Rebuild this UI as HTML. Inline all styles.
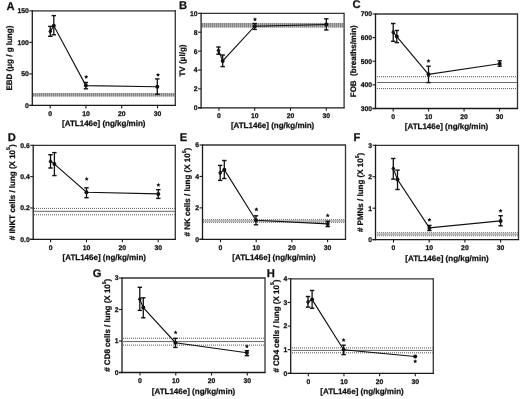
<!DOCTYPE html>
<html><head><meta charset="utf-8">
<style>
html,body{margin:0;padding:0;background:#fff;}
body{width:520px;height:399px;overflow:hidden;}
svg{display:block;filter:grayscale(1);}
text{font-family:"Liberation Sans",sans-serif;font-weight:bold;fill:#111;stroke:#111;stroke-width:0.25px;text-rendering:geometricPrecision;}
</style></head>
<body>
<svg width="520" height="399" viewBox="0 0 520 399">
<rect width="520" height="399" fill="#fff"/>
<rect x="33" y="93.1" width="141.6" height="3.4" fill="#b0b0b0"/>
<line x1="33" y1="94.8" x2="174.6" y2="94.8" stroke="#858585" stroke-width="3.4" stroke-dasharray="1 1"/>
<line x1="32.3" y1="10.9" x2="175.3" y2="10.9" stroke="#666" stroke-width="1.8"/>
<line x1="175.3" y1="10" x2="175.3" y2="105.4" stroke="#333" stroke-width="1.3"/>
<line x1="32.3" y1="10.3" x2="32.3" y2="106.05" stroke="#1a1a1a" stroke-width="1.3"/>
<line x1="29.3" y1="105.4" x2="175.95" y2="105.4" stroke="#1a1a1a" stroke-width="1.3"/>
<line x1="29.3" y1="105.4" x2="32.3" y2="105.4" stroke="#1a1a1a" stroke-width="1.1"/>
<text x="28.8" y="107.83" text-anchor="end" font-size="6.8">0</text>
<line x1="29.3" y1="73.9" x2="32.3" y2="73.9" stroke="#1a1a1a" stroke-width="1.1"/>
<text x="28.8" y="76.33" text-anchor="end" font-size="6.8">50</text>
<line x1="29.3" y1="42.4" x2="32.3" y2="42.4" stroke="#1a1a1a" stroke-width="1.1"/>
<text x="28.8" y="44.83" text-anchor="end" font-size="6.8">100</text>
<line x1="29.3" y1="10.9" x2="32.3" y2="10.9" stroke="#1a1a1a" stroke-width="1.1"/>
<text x="28.8" y="13.33" text-anchor="end" font-size="6.8">150</text>
<line x1="50.2" y1="105.4" x2="50.2" y2="108.4" stroke="#1a1a1a" stroke-width="1.1"/>
<text x="50.2" y="115.6" text-anchor="middle" font-size="6.8">0</text>
<line x1="85.97" y1="105.4" x2="85.97" y2="108.4" stroke="#1a1a1a" stroke-width="1.1"/>
<text x="85.97" y="115.6" text-anchor="middle" font-size="6.8">10</text>
<line x1="121.73" y1="105.4" x2="121.73" y2="108.4" stroke="#1a1a1a" stroke-width="1.1"/>
<text x="121.73" y="115.6" text-anchor="middle" font-size="6.8">20</text>
<line x1="157.5" y1="105.4" x2="157.5" y2="108.4" stroke="#1a1a1a" stroke-width="1.1"/>
<text x="157.5" y="115.6" text-anchor="middle" font-size="6.8">30</text>
<text x="103.8" y="126.4" text-anchor="middle" font-size="8">[ATL146e] (ng/kg/min)</text>
<text transform="translate(12.4 58.15) rotate(-90)" x="0" y="0" text-anchor="middle" font-size="8">EBD (μg / g lung)</text>
<text x="6.4" y="9.5" font-size="11.2" stroke="#000" stroke-width="0.5">A</text>
<polyline points="50.3,31.4 53.8,25.8 85.9,85.6 157.3,86.8" fill="none" stroke="#111" stroke-width="1.15"/>
<line x1="50.3" y1="26.4" x2="50.3" y2="36.3" stroke="#111" stroke-width="1.3"/>
<line x1="48.1" y1="26.4" x2="52.5" y2="26.4" stroke="#111" stroke-width="1.4"/>
<line x1="48.1" y1="36.3" x2="52.5" y2="36.3" stroke="#111" stroke-width="1.4"/>
<polygon points="50.3,29.7 51.6,31.4 50.3,33.1 49,31.4" fill="none" stroke="#111" stroke-width="1.1"/>
<line x1="53.8" y1="15.6" x2="53.8" y2="34.8" stroke="#111" stroke-width="1.3"/>
<line x1="51.6" y1="15.6" x2="56" y2="15.6" stroke="#111" stroke-width="1.4"/>
<line x1="51.6" y1="34.8" x2="56" y2="34.8" stroke="#111" stroke-width="1.4"/>
<circle cx="53.8" cy="25.8" r="2" fill="#111"/>
<line x1="85.9" y1="82.5" x2="85.9" y2="88.8" stroke="#111" stroke-width="1.3"/>
<line x1="83.7" y1="82.5" x2="88.1" y2="82.5" stroke="#111" stroke-width="1.4"/>
<line x1="83.7" y1="88.8" x2="88.1" y2="88.8" stroke="#111" stroke-width="1.4"/>
<circle cx="85.9" cy="85.6" r="2" fill="#111"/>
<line x1="157.3" y1="78.9" x2="157.3" y2="94.3" stroke="#111" stroke-width="1.3"/>
<line x1="155.1" y1="78.9" x2="159.5" y2="78.9" stroke="#111" stroke-width="1.4"/>
<line x1="155.1" y1="94.3" x2="159.5" y2="94.3" stroke="#111" stroke-width="1.4"/>
<circle cx="157.3" cy="86.8" r="2" fill="#111"/>
<polygon points="86.2,74.75 86.83,76.03 88.24,76.24 87.22,77.23 87.46,78.64 86.2,77.98 84.94,78.64 85.18,77.23 84.16,76.24 85.57,76.03" fill="#111"/>
<polygon points="158,72.65 158.63,73.93 160.04,74.14 159.02,75.13 159.26,76.54 158,75.88 156.74,76.54 156.98,75.13 155.96,74.14 157.37,73.93" fill="#111"/>
<rect x="202" y="22.9" width="141.4" height="4.6" fill="#b0b0b0"/>
<line x1="202" y1="25.2" x2="343.4" y2="25.2" stroke="#858585" stroke-width="4.6" stroke-dasharray="1 1"/>
<line x1="201.1" y1="13.3" x2="344.1" y2="13.3" stroke="#333" stroke-width="1.3"/>
<line x1="344.1" y1="12.65" x2="344.1" y2="107.8" stroke="#333" stroke-width="1.3"/>
<line x1="201.1" y1="12.7" x2="201.1" y2="108.45" stroke="#1a1a1a" stroke-width="1.3"/>
<line x1="198.1" y1="107.8" x2="344.75" y2="107.8" stroke="#1a1a1a" stroke-width="1.3"/>
<line x1="198.1" y1="107.8" x2="201.1" y2="107.8" stroke="#1a1a1a" stroke-width="1.1"/>
<text x="197.6" y="110.23" text-anchor="end" font-size="6.8">0</text>
<line x1="198.1" y1="88.9" x2="201.1" y2="88.9" stroke="#1a1a1a" stroke-width="1.1"/>
<text x="197.6" y="91.33" text-anchor="end" font-size="6.8">2</text>
<line x1="198.1" y1="70" x2="201.1" y2="70" stroke="#1a1a1a" stroke-width="1.1"/>
<text x="197.6" y="72.43" text-anchor="end" font-size="6.8">4</text>
<line x1="198.1" y1="51.1" x2="201.1" y2="51.1" stroke="#1a1a1a" stroke-width="1.1"/>
<text x="197.6" y="53.53" text-anchor="end" font-size="6.8">6</text>
<line x1="198.1" y1="32.2" x2="201.1" y2="32.2" stroke="#1a1a1a" stroke-width="1.1"/>
<text x="197.6" y="34.63" text-anchor="end" font-size="6.8">8</text>
<line x1="198.1" y1="13.3" x2="201.1" y2="13.3" stroke="#1a1a1a" stroke-width="1.1"/>
<text x="197.6" y="15.73" text-anchor="end" font-size="6.8">10</text>
<line x1="218.9" y1="107.8" x2="218.9" y2="110.8" stroke="#1a1a1a" stroke-width="1.1"/>
<text x="218.9" y="118" text-anchor="middle" font-size="6.8">0</text>
<line x1="254.7" y1="107.8" x2="254.7" y2="110.8" stroke="#1a1a1a" stroke-width="1.1"/>
<text x="254.7" y="118" text-anchor="middle" font-size="6.8">10</text>
<line x1="290.5" y1="107.8" x2="290.5" y2="110.8" stroke="#1a1a1a" stroke-width="1.1"/>
<text x="290.5" y="118" text-anchor="middle" font-size="6.8">20</text>
<line x1="326.3" y1="107.8" x2="326.3" y2="110.8" stroke="#1a1a1a" stroke-width="1.1"/>
<text x="326.3" y="118" text-anchor="middle" font-size="6.8">30</text>
<text x="272.6" y="128.2" text-anchor="middle" font-size="8">[ATL146e] (ng/kg/min)</text>
<text transform="translate(185 60.55) rotate(-90)" x="0" y="0" text-anchor="middle" font-size="8">TV (μl/g)</text>
<text x="179" y="9.2" font-size="11.2" stroke="#000" stroke-width="0.5">B</text>
<polyline points="218.5,50.5 222.7,60.9 254.7,26.2 326.3,24.5" fill="none" stroke="#111" stroke-width="1.15"/>
<line x1="218.5" y1="47" x2="218.5" y2="54.2" stroke="#111" stroke-width="1.3"/>
<line x1="216.3" y1="47" x2="220.7" y2="47" stroke="#111" stroke-width="1.4"/>
<line x1="216.3" y1="54.2" x2="220.7" y2="54.2" stroke="#111" stroke-width="1.4"/>
<polygon points="218.5,48.8 219.8,50.5 218.5,52.2 217.2,50.5" fill="none" stroke="#111" stroke-width="1.1"/>
<line x1="222.7" y1="55" x2="222.7" y2="66.6" stroke="#111" stroke-width="1.3"/>
<line x1="220.5" y1="55" x2="224.9" y2="55" stroke="#111" stroke-width="1.4"/>
<line x1="220.5" y1="66.6" x2="224.9" y2="66.6" stroke="#111" stroke-width="1.4"/>
<circle cx="222.7" cy="60.9" r="2" fill="#111"/>
<line x1="254.7" y1="23.5" x2="254.7" y2="29.4" stroke="#111" stroke-width="1.3"/>
<line x1="252.5" y1="23.5" x2="256.9" y2="23.5" stroke="#111" stroke-width="1.4"/>
<line x1="252.5" y1="29.4" x2="256.9" y2="29.4" stroke="#111" stroke-width="1.4"/>
<circle cx="254.7" cy="26.2" r="2" fill="#111"/>
<line x1="326.3" y1="18.8" x2="326.3" y2="30" stroke="#111" stroke-width="1.3"/>
<line x1="324.1" y1="18.8" x2="328.5" y2="18.8" stroke="#111" stroke-width="1.4"/>
<line x1="324.1" y1="30" x2="328.5" y2="30" stroke="#111" stroke-width="1.4"/>
<circle cx="326.3" cy="24.5" r="2" fill="#111"/>
<polygon points="255,17.25 255.63,18.53 257.04,18.74 256.02,19.73 256.26,21.14 255,20.47 253.74,21.14 253.98,19.73 252.96,18.74 254.37,18.53" fill="#111"/>
<line x1="377" y1="76.7" x2="516.8" y2="76.7" stroke="#555" stroke-width="1" stroke-dasharray="1 1"/>
<line x1="377" y1="82.5" x2="516.8" y2="82.5" stroke="#666" stroke-width="1"/>
<line x1="377" y1="88.6" x2="516.8" y2="88.6" stroke="#555" stroke-width="1" stroke-dasharray="1 1"/>
<line x1="375.5" y1="14" x2="517.5" y2="14" stroke="#333" stroke-width="1.3"/>
<line x1="517.5" y1="13.35" x2="517.5" y2="108.5" stroke="#333" stroke-width="1.3"/>
<line x1="375.5" y1="13.4" x2="375.5" y2="109.15" stroke="#1a1a1a" stroke-width="1.3"/>
<line x1="372.5" y1="108.5" x2="518.15" y2="108.5" stroke="#1a1a1a" stroke-width="1.3"/>
<line x1="372.5" y1="108.5" x2="375.5" y2="108.5" stroke="#1a1a1a" stroke-width="1.1"/>
<text x="372" y="110.93" text-anchor="end" font-size="6.8">300</text>
<line x1="372.5" y1="84.88" x2="375.5" y2="84.88" stroke="#1a1a1a" stroke-width="1.1"/>
<text x="372" y="87.31" text-anchor="end" font-size="6.8">400</text>
<line x1="372.5" y1="61.25" x2="375.5" y2="61.25" stroke="#1a1a1a" stroke-width="1.1"/>
<text x="372" y="63.68" text-anchor="end" font-size="6.8">500</text>
<line x1="372.5" y1="37.62" x2="375.5" y2="37.62" stroke="#1a1a1a" stroke-width="1.1"/>
<text x="372" y="40.06" text-anchor="end" font-size="6.8">600</text>
<line x1="372.5" y1="14" x2="375.5" y2="14" stroke="#1a1a1a" stroke-width="1.1"/>
<text x="372" y="16.43" text-anchor="end" font-size="6.8">700</text>
<line x1="393.2" y1="108.5" x2="393.2" y2="111.5" stroke="#1a1a1a" stroke-width="1.1"/>
<text x="393.2" y="118.7" text-anchor="middle" font-size="6.8">0</text>
<line x1="428.63" y1="108.5" x2="428.63" y2="111.5" stroke="#1a1a1a" stroke-width="1.1"/>
<text x="428.63" y="118.7" text-anchor="middle" font-size="6.8">10</text>
<line x1="464.07" y1="108.5" x2="464.07" y2="111.5" stroke="#1a1a1a" stroke-width="1.1"/>
<text x="464.07" y="118.7" text-anchor="middle" font-size="6.8">20</text>
<line x1="499.5" y1="108.5" x2="499.5" y2="111.5" stroke="#1a1a1a" stroke-width="1.1"/>
<text x="499.5" y="118.7" text-anchor="middle" font-size="6.8">30</text>
<text x="446.5" y="129.2" text-anchor="middle" font-size="8">[ATL146e] (ng/kg/min)</text>
<text transform="translate(356.4 61.25) rotate(-90)" x="0" y="0" text-anchor="middle" font-size="8">FOB  (breaths/min)</text>
<text x="352.5" y="7.9" font-size="11.2" stroke="#000" stroke-width="0.5">C</text>
<polyline points="393.2,32.2 396.8,36.6 428.5,74.3 499.7,63.7" fill="none" stroke="#111" stroke-width="1.15"/>
<line x1="393.2" y1="23.5" x2="393.2" y2="41.3" stroke="#111" stroke-width="1.3"/>
<line x1="391" y1="23.5" x2="395.4" y2="23.5" stroke="#111" stroke-width="1.4"/>
<line x1="391" y1="41.3" x2="395.4" y2="41.3" stroke="#111" stroke-width="1.4"/>
<polygon points="393.2,30.5 394.5,32.2 393.2,33.9 391.9,32.2" fill="none" stroke="#111" stroke-width="1.1"/>
<line x1="396.8" y1="30.5" x2="396.8" y2="42.6" stroke="#111" stroke-width="1.3"/>
<line x1="394.6" y1="30.5" x2="399" y2="30.5" stroke="#111" stroke-width="1.4"/>
<line x1="394.6" y1="42.6" x2="399" y2="42.6" stroke="#111" stroke-width="1.4"/>
<circle cx="396.8" cy="36.6" r="2" fill="#111"/>
<line x1="428.5" y1="66.2" x2="428.5" y2="82.6" stroke="#111" stroke-width="1.3"/>
<line x1="426.3" y1="66.2" x2="430.7" y2="66.2" stroke="#111" stroke-width="1.4"/>
<line x1="426.3" y1="82.6" x2="430.7" y2="82.6" stroke="#111" stroke-width="1.4"/>
<circle cx="428.5" cy="74.3" r="2" fill="#111"/>
<line x1="499.7" y1="60.8" x2="499.7" y2="66.2" stroke="#111" stroke-width="1.3"/>
<line x1="497.5" y1="60.8" x2="501.9" y2="60.8" stroke="#111" stroke-width="1.4"/>
<line x1="497.5" y1="66.2" x2="501.9" y2="66.2" stroke="#111" stroke-width="1.4"/>
<circle cx="499.7" cy="63.7" r="2" fill="#111"/>
<polygon points="428.5,58.85 429.13,60.13 430.54,60.34 429.52,61.33 429.76,62.74 428.5,62.08 427.24,62.74 427.48,61.33 426.46,60.34 427.87,60.13" fill="#111"/>
<line x1="34" y1="208.4" x2="174.6" y2="208.4" stroke="#555" stroke-width="1" stroke-dasharray="1 1"/>
<line x1="34" y1="211.3" x2="174.6" y2="211.3" stroke="#666" stroke-width="1"/>
<line x1="34" y1="214.8" x2="174.6" y2="214.8" stroke="#555" stroke-width="1" stroke-dasharray="1 1"/>
<line x1="33.2" y1="145.3" x2="175.3" y2="145.3" stroke="#333" stroke-width="1.3"/>
<line x1="175.3" y1="144.65" x2="175.3" y2="239.3" stroke="#333" stroke-width="1.3"/>
<line x1="33.2" y1="144.7" x2="33.2" y2="239.95" stroke="#1a1a1a" stroke-width="1.3"/>
<line x1="30.2" y1="239.3" x2="175.95" y2="239.3" stroke="#1a1a1a" stroke-width="1.3"/>
<line x1="30.2" y1="239.3" x2="33.2" y2="239.3" stroke="#1a1a1a" stroke-width="1.1"/>
<text x="29.7" y="241.73" text-anchor="end" font-size="6.8">0.0</text>
<line x1="30.2" y1="207.97" x2="33.2" y2="207.97" stroke="#1a1a1a" stroke-width="1.1"/>
<text x="29.7" y="210.4" text-anchor="end" font-size="6.8">0.2</text>
<line x1="30.2" y1="176.63" x2="33.2" y2="176.63" stroke="#1a1a1a" stroke-width="1.1"/>
<text x="29.7" y="179.07" text-anchor="end" font-size="6.8">0.4</text>
<line x1="30.2" y1="145.3" x2="33.2" y2="145.3" stroke="#1a1a1a" stroke-width="1.1"/>
<text x="29.7" y="147.73" text-anchor="end" font-size="6.8">0.6</text>
<line x1="50.6" y1="239.3" x2="50.6" y2="242.3" stroke="#1a1a1a" stroke-width="1.1"/>
<text x="50.6" y="249.5" text-anchor="middle" font-size="6.8">0</text>
<line x1="86.47" y1="239.3" x2="86.47" y2="242.3" stroke="#1a1a1a" stroke-width="1.1"/>
<text x="86.47" y="249.5" text-anchor="middle" font-size="6.8">10</text>
<line x1="122.33" y1="239.3" x2="122.33" y2="242.3" stroke="#1a1a1a" stroke-width="1.1"/>
<text x="122.33" y="249.5" text-anchor="middle" font-size="6.8">20</text>
<line x1="158.2" y1="239.3" x2="158.2" y2="242.3" stroke="#1a1a1a" stroke-width="1.1"/>
<text x="158.2" y="249.5" text-anchor="middle" font-size="6.8">30</text>
<text x="104.25" y="260.3" text-anchor="middle" font-size="8">[ATL146e] (ng/kg/min)</text>
<text transform="translate(14.6 192.3) rotate(-90)" x="0" y="0" text-anchor="middle" font-size="8"># INKT cells / lung (X 10<tspan font-size="5.12" dy="-4.2">5</tspan><tspan dy="4.2">)</tspan></text>
<text x="7.8" y="141.2" font-size="11.2" stroke="#000" stroke-width="0.5">D</text>
<polyline points="50.5,161.4 54.4,164.1 86.5,192.3 158.3,193.9" fill="none" stroke="#111" stroke-width="1.15"/>
<line x1="50.5" y1="154.7" x2="50.5" y2="168" stroke="#111" stroke-width="1.3"/>
<line x1="48.3" y1="154.7" x2="52.7" y2="154.7" stroke="#111" stroke-width="1.4"/>
<line x1="48.3" y1="168" x2="52.7" y2="168" stroke="#111" stroke-width="1.4"/>
<polygon points="50.5,159.7 51.8,161.4 50.5,163.1 49.2,161.4" fill="none" stroke="#111" stroke-width="1.1"/>
<line x1="54.4" y1="152.6" x2="54.4" y2="175.6" stroke="#111" stroke-width="1.3"/>
<line x1="52.2" y1="152.6" x2="56.6" y2="152.6" stroke="#111" stroke-width="1.4"/>
<line x1="52.2" y1="175.6" x2="56.6" y2="175.6" stroke="#111" stroke-width="1.4"/>
<circle cx="54.4" cy="164.1" r="2" fill="#111"/>
<line x1="86.5" y1="187.8" x2="86.5" y2="197.7" stroke="#111" stroke-width="1.3"/>
<line x1="84.3" y1="187.8" x2="88.7" y2="187.8" stroke="#111" stroke-width="1.4"/>
<line x1="84.3" y1="197.7" x2="88.7" y2="197.7" stroke="#111" stroke-width="1.4"/>
<circle cx="86.5" cy="192.3" r="2" fill="#111"/>
<line x1="158.3" y1="189.7" x2="158.3" y2="198.4" stroke="#111" stroke-width="1.3"/>
<line x1="156.1" y1="189.7" x2="160.5" y2="189.7" stroke="#111" stroke-width="1.4"/>
<line x1="156.1" y1="198.4" x2="160.5" y2="198.4" stroke="#111" stroke-width="1.4"/>
<circle cx="158.3" cy="193.9" r="2" fill="#111"/>
<polygon points="86.7,176.85 87.33,178.13 88.74,178.34 87.72,179.33 87.96,180.74 86.7,180.07 85.44,180.74 85.68,179.33 84.66,178.34 86.07,178.13" fill="#111"/>
<polygon points="158.4,182.85 159.03,184.13 160.44,184.34 159.42,185.33 159.66,186.74 158.4,186.07 157.14,186.74 157.38,185.33 156.36,184.34 157.77,184.13" fill="#111"/>
<rect x="203" y="219.6" width="141.8" height="2.8" fill="#d6d6d6"/>
<line x1="203" y1="219.6" x2="344.8" y2="219.6" stroke="#777" stroke-width="1" stroke-dasharray="1 1"/>
<line x1="203" y1="221" x2="344.8" y2="221" stroke="#999" stroke-width="0.8"/>
<line x1="203" y1="222.4" x2="344.8" y2="222.4" stroke="#777" stroke-width="1" stroke-dasharray="1 1"/>
<line x1="202.5" y1="145" x2="345.5" y2="145" stroke="#333" stroke-width="1.3"/>
<line x1="345.5" y1="144.35" x2="345.5" y2="239.3" stroke="#333" stroke-width="1.3"/>
<line x1="202.5" y1="144.4" x2="202.5" y2="239.95" stroke="#1a1a1a" stroke-width="1.3"/>
<line x1="199.5" y1="239.3" x2="346.15" y2="239.3" stroke="#1a1a1a" stroke-width="1.3"/>
<line x1="199.5" y1="239.3" x2="202.5" y2="239.3" stroke="#1a1a1a" stroke-width="1.1"/>
<text x="199" y="241.73" text-anchor="end" font-size="6.8">0</text>
<line x1="199.5" y1="207.87" x2="202.5" y2="207.87" stroke="#1a1a1a" stroke-width="1.1"/>
<text x="199" y="210.3" text-anchor="end" font-size="6.8">2</text>
<line x1="199.5" y1="176.43" x2="202.5" y2="176.43" stroke="#1a1a1a" stroke-width="1.1"/>
<text x="199" y="178.87" text-anchor="end" font-size="6.8">4</text>
<line x1="199.5" y1="145" x2="202.5" y2="145" stroke="#1a1a1a" stroke-width="1.1"/>
<text x="199" y="147.43" text-anchor="end" font-size="6.8">6</text>
<line x1="220.5" y1="239.3" x2="220.5" y2="242.3" stroke="#1a1a1a" stroke-width="1.1"/>
<text x="220.5" y="249.5" text-anchor="middle" font-size="6.8">0</text>
<line x1="256.2" y1="239.3" x2="256.2" y2="242.3" stroke="#1a1a1a" stroke-width="1.1"/>
<text x="256.2" y="249.5" text-anchor="middle" font-size="6.8">10</text>
<line x1="291.9" y1="239.3" x2="291.9" y2="242.3" stroke="#1a1a1a" stroke-width="1.1"/>
<text x="291.9" y="249.5" text-anchor="middle" font-size="6.8">20</text>
<line x1="327.6" y1="239.3" x2="327.6" y2="242.3" stroke="#1a1a1a" stroke-width="1.1"/>
<text x="327.6" y="249.5" text-anchor="middle" font-size="6.8">30</text>
<text x="274" y="260.3" text-anchor="middle" font-size="8">[ATL146e] (ng/kg/min)</text>
<text transform="translate(190.3 192.15) rotate(-90)" x="0" y="0" text-anchor="middle" font-size="8"># NK cells / lung (X 10<tspan font-size="5.12" dy="-4.2">5</tspan><tspan dy="4.2">)</tspan></text>
<text x="179.8" y="140.8" font-size="11.2" stroke="#000" stroke-width="0.5">E</text>
<polyline points="220.2,172.9 224.3,169.7 256,220.3 327.7,223.9" fill="none" stroke="#111" stroke-width="1.15"/>
<line x1="220.2" y1="165.4" x2="220.2" y2="180.4" stroke="#111" stroke-width="1.3"/>
<line x1="218" y1="165.4" x2="222.4" y2="165.4" stroke="#111" stroke-width="1.4"/>
<line x1="218" y1="180.4" x2="222.4" y2="180.4" stroke="#111" stroke-width="1.4"/>
<polygon points="220.2,171.2 221.5,172.9 220.2,174.6 218.9,172.9" fill="none" stroke="#111" stroke-width="1.1"/>
<line x1="224.3" y1="160.5" x2="224.3" y2="178.5" stroke="#111" stroke-width="1.3"/>
<line x1="222.1" y1="160.5" x2="226.5" y2="160.5" stroke="#111" stroke-width="1.4"/>
<line x1="222.1" y1="178.5" x2="226.5" y2="178.5" stroke="#111" stroke-width="1.4"/>
<circle cx="224.3" cy="169.7" r="2" fill="#111"/>
<line x1="256" y1="215.8" x2="256" y2="224.8" stroke="#111" stroke-width="1.3"/>
<line x1="253.8" y1="215.8" x2="258.2" y2="215.8" stroke="#111" stroke-width="1.4"/>
<line x1="253.8" y1="224.8" x2="258.2" y2="224.8" stroke="#111" stroke-width="1.4"/>
<circle cx="256" cy="220.3" r="2" fill="#111"/>
<line x1="327.7" y1="221.3" x2="327.7" y2="226.6" stroke="#111" stroke-width="1.3"/>
<line x1="325.5" y1="221.3" x2="329.9" y2="221.3" stroke="#111" stroke-width="1.4"/>
<line x1="325.5" y1="226.6" x2="329.9" y2="226.6" stroke="#111" stroke-width="1.4"/>
<circle cx="327.7" cy="223.9" r="2" fill="#111"/>
<polygon points="256.4,207.25 257.03,208.53 258.44,208.74 257.42,209.73 257.66,211.14 256.4,210.47 255.14,211.14 255.38,209.73 254.36,208.74 255.77,208.53" fill="#111"/>
<polygon points="327.7,213.35 328.33,214.63 329.74,214.84 328.72,215.83 328.96,217.24 327.7,216.57 326.44,217.24 326.68,215.83 325.66,214.84 327.07,214.63" fill="#111"/>
<rect x="377" y="232.6" width="140.8" height="3.2" fill="#d6d6d6"/>
<line x1="377" y1="232.6" x2="517.8" y2="232.6" stroke="#777" stroke-width="1" stroke-dasharray="1 1"/>
<line x1="377" y1="234.2" x2="517.8" y2="234.2" stroke="#999" stroke-width="0.8"/>
<line x1="377" y1="235.8" x2="517.8" y2="235.8" stroke="#777" stroke-width="1" stroke-dasharray="1 1"/>
<line x1="375.5" y1="145.3" x2="518.5" y2="145.3" stroke="#333" stroke-width="1.3"/>
<line x1="518.5" y1="144.65" x2="518.5" y2="239.6" stroke="#333" stroke-width="1.3"/>
<line x1="375.5" y1="144.7" x2="375.5" y2="240.25" stroke="#1a1a1a" stroke-width="1.3"/>
<line x1="372.5" y1="239.6" x2="519.15" y2="239.6" stroke="#1a1a1a" stroke-width="1.3"/>
<line x1="372.5" y1="239.6" x2="375.5" y2="239.6" stroke="#1a1a1a" stroke-width="1.1"/>
<text x="372" y="242.03" text-anchor="end" font-size="6.8">0</text>
<line x1="372.5" y1="208.17" x2="375.5" y2="208.17" stroke="#1a1a1a" stroke-width="1.1"/>
<text x="372" y="210.6" text-anchor="end" font-size="6.8">1</text>
<line x1="372.5" y1="176.73" x2="375.5" y2="176.73" stroke="#1a1a1a" stroke-width="1.1"/>
<text x="372" y="179.17" text-anchor="end" font-size="6.8">2</text>
<line x1="372.5" y1="145.3" x2="375.5" y2="145.3" stroke="#1a1a1a" stroke-width="1.1"/>
<text x="372" y="147.73" text-anchor="end" font-size="6.8">3</text>
<line x1="393.5" y1="239.6" x2="393.5" y2="242.6" stroke="#1a1a1a" stroke-width="1.1"/>
<text x="393.5" y="249.8" text-anchor="middle" font-size="6.8">0</text>
<line x1="429.2" y1="239.6" x2="429.2" y2="242.6" stroke="#1a1a1a" stroke-width="1.1"/>
<text x="429.2" y="249.8" text-anchor="middle" font-size="6.8">10</text>
<line x1="464.9" y1="239.6" x2="464.9" y2="242.6" stroke="#1a1a1a" stroke-width="1.1"/>
<text x="464.9" y="249.8" text-anchor="middle" font-size="6.8">20</text>
<line x1="500.6" y1="239.6" x2="500.6" y2="242.6" stroke="#1a1a1a" stroke-width="1.1"/>
<text x="500.6" y="249.8" text-anchor="middle" font-size="6.8">30</text>
<text x="447" y="260.5" text-anchor="middle" font-size="8">[ATL146e] (ng/kg/min)</text>
<text transform="translate(363.2 192.45) rotate(-90)" x="0" y="0" text-anchor="middle" font-size="8"># PMNs / lung (X 10<tspan font-size="5.12" dy="-4.2">5</tspan><tspan dy="4.2">)</tspan></text>
<text x="353.6" y="141.2" font-size="11.2" stroke="#000" stroke-width="0.5">F</text>
<polyline points="393.3,168.6 397.5,179.5 429.4,227.9 500.6,220.9" fill="none" stroke="#111" stroke-width="1.15"/>
<line x1="393.3" y1="158.5" x2="393.3" y2="179.1" stroke="#111" stroke-width="1.3"/>
<line x1="391.1" y1="158.5" x2="395.5" y2="158.5" stroke="#111" stroke-width="1.4"/>
<line x1="391.1" y1="179.1" x2="395.5" y2="179.1" stroke="#111" stroke-width="1.4"/>
<polygon points="393.3,166.9 394.6,168.6 393.3,170.3 392,168.6" fill="none" stroke="#111" stroke-width="1.1"/>
<line x1="397.5" y1="170.1" x2="397.5" y2="189.5" stroke="#111" stroke-width="1.3"/>
<line x1="395.3" y1="170.1" x2="399.7" y2="170.1" stroke="#111" stroke-width="1.4"/>
<line x1="395.3" y1="189.5" x2="399.7" y2="189.5" stroke="#111" stroke-width="1.4"/>
<circle cx="397.5" cy="179.5" r="2" fill="#111"/>
<line x1="429.4" y1="225.4" x2="429.4" y2="230.5" stroke="#111" stroke-width="1.3"/>
<line x1="427.2" y1="225.4" x2="431.6" y2="225.4" stroke="#111" stroke-width="1.4"/>
<line x1="427.2" y1="230.5" x2="431.6" y2="230.5" stroke="#111" stroke-width="1.4"/>
<circle cx="429.4" cy="227.9" r="2" fill="#111"/>
<line x1="500.6" y1="215.7" x2="500.6" y2="225.8" stroke="#111" stroke-width="1.3"/>
<line x1="498.4" y1="215.7" x2="502.8" y2="215.7" stroke="#111" stroke-width="1.4"/>
<line x1="498.4" y1="225.8" x2="502.8" y2="225.8" stroke="#111" stroke-width="1.4"/>
<circle cx="500.6" cy="220.9" r="2" fill="#111"/>
<polygon points="429.4,217.65 430.03,218.93 431.44,219.14 430.42,220.13 430.66,221.54 429.4,220.88 428.14,221.54 428.38,220.13 427.36,219.14 428.77,218.93" fill="#111"/>
<polygon points="500.6,208.65 501.23,209.93 502.64,210.14 501.62,211.13 501.86,212.54 500.6,211.88 499.34,212.54 499.58,211.13 498.56,210.14 499.97,209.93" fill="#111"/>
<line x1="123" y1="338.2" x2="264.3" y2="338.2" stroke="#555" stroke-width="1" stroke-dasharray="1 1"/>
<line x1="123" y1="341.6" x2="264.3" y2="341.6" stroke="#666" stroke-width="1"/>
<line x1="123" y1="345.1" x2="264.3" y2="345.1" stroke="#555" stroke-width="1" stroke-dasharray="1 1"/>
<line x1="122" y1="278" x2="265" y2="278" stroke="#333" stroke-width="1.3"/>
<line x1="265" y1="277.35" x2="265" y2="372.5" stroke="#333" stroke-width="1.3"/>
<line x1="122" y1="277.4" x2="122" y2="373.15" stroke="#1a1a1a" stroke-width="1.3"/>
<line x1="119" y1="372.5" x2="265.65" y2="372.5" stroke="#1a1a1a" stroke-width="1.3"/>
<line x1="119" y1="372.5" x2="122" y2="372.5" stroke="#1a1a1a" stroke-width="1.1"/>
<text x="118.5" y="374.93" text-anchor="end" font-size="6.8">0</text>
<line x1="119" y1="341" x2="122" y2="341" stroke="#1a1a1a" stroke-width="1.1"/>
<text x="118.5" y="343.43" text-anchor="end" font-size="6.8">1</text>
<line x1="119" y1="309.5" x2="122" y2="309.5" stroke="#1a1a1a" stroke-width="1.1"/>
<text x="118.5" y="311.93" text-anchor="end" font-size="6.8">2</text>
<line x1="119" y1="278" x2="122" y2="278" stroke="#1a1a1a" stroke-width="1.1"/>
<text x="118.5" y="280.43" text-anchor="end" font-size="6.8">3</text>
<line x1="140" y1="372.5" x2="140" y2="375.5" stroke="#1a1a1a" stroke-width="1.1"/>
<text x="140" y="382.7" text-anchor="middle" font-size="6.8">0</text>
<line x1="175.77" y1="372.5" x2="175.77" y2="375.5" stroke="#1a1a1a" stroke-width="1.1"/>
<text x="175.77" y="382.7" text-anchor="middle" font-size="6.8">10</text>
<line x1="211.53" y1="372.5" x2="211.53" y2="375.5" stroke="#1a1a1a" stroke-width="1.1"/>
<text x="211.53" y="382.7" text-anchor="middle" font-size="6.8">20</text>
<line x1="247.3" y1="372.5" x2="247.3" y2="375.5" stroke="#1a1a1a" stroke-width="1.1"/>
<text x="247.3" y="382.7" text-anchor="middle" font-size="6.8">30</text>
<text x="193.5" y="393.6" text-anchor="middle" font-size="8">[ATL146e] (ng/kg/min)</text>
<text transform="translate(110.4 325.25) rotate(-90)" x="0" y="0" text-anchor="middle" font-size="8"># CD8 cells / lung (X 10<tspan font-size="5.12" dy="-4.2">5</tspan><tspan dy="4.2">)</tspan></text>
<text x="92.8" y="277.2" font-size="11.2" stroke="#000" stroke-width="0.5">G</text>
<polyline points="139.8,299.2 143.3,307.6 175.4,342.7 246.9,352.8" fill="none" stroke="#111" stroke-width="1.15"/>
<line x1="139.8" y1="287.3" x2="139.8" y2="310.4" stroke="#111" stroke-width="1.3"/>
<line x1="137.6" y1="287.3" x2="142" y2="287.3" stroke="#111" stroke-width="1.4"/>
<line x1="137.6" y1="310.4" x2="142" y2="310.4" stroke="#111" stroke-width="1.4"/>
<polygon points="139.8,297.5 141.1,299.2 139.8,300.9 138.5,299.2" fill="none" stroke="#111" stroke-width="1.1"/>
<line x1="143.3" y1="297.8" x2="143.3" y2="317.8" stroke="#111" stroke-width="1.3"/>
<line x1="141.1" y1="297.8" x2="145.5" y2="297.8" stroke="#111" stroke-width="1.4"/>
<line x1="141.1" y1="317.8" x2="145.5" y2="317.8" stroke="#111" stroke-width="1.4"/>
<circle cx="143.3" cy="307.6" r="2" fill="#111"/>
<line x1="175.4" y1="338.4" x2="175.4" y2="347.4" stroke="#111" stroke-width="1.3"/>
<line x1="173.2" y1="338.4" x2="177.6" y2="338.4" stroke="#111" stroke-width="1.4"/>
<line x1="173.2" y1="347.4" x2="177.6" y2="347.4" stroke="#111" stroke-width="1.4"/>
<circle cx="175.4" cy="342.7" r="2" fill="#111"/>
<line x1="246.9" y1="350.7" x2="246.9" y2="355.7" stroke="#111" stroke-width="1.3"/>
<line x1="244.7" y1="350.7" x2="249.1" y2="350.7" stroke="#111" stroke-width="1.4"/>
<line x1="244.7" y1="355.7" x2="249.1" y2="355.7" stroke="#111" stroke-width="1.4"/>
<circle cx="246.9" cy="352.8" r="2" fill="#111"/>
<polygon points="175.6,330.35 176.23,331.63 177.64,331.84 176.62,332.83 176.86,334.24 175.6,333.57 174.34,334.24 174.58,332.83 173.56,331.84 174.97,331.63" fill="#111"/>
<polygon points="246.9,344.15 247.53,345.43 248.94,345.64 247.92,346.63 248.16,348.04 246.9,347.38 245.64,348.04 245.88,346.63 244.86,345.64 246.27,345.43" fill="#111"/>
<line x1="292" y1="347.9" x2="432.6" y2="347.9" stroke="#555" stroke-width="1" stroke-dasharray="1 1"/>
<line x1="292" y1="350.4" x2="432.6" y2="350.4" stroke="#666" stroke-width="1"/>
<line x1="292" y1="352.8" x2="432.6" y2="352.8" stroke="#555" stroke-width="1" stroke-dasharray="1 1"/>
<line x1="290.7" y1="278.8" x2="433.3" y2="278.8" stroke="#333" stroke-width="1.3"/>
<line x1="433.3" y1="278.15" x2="433.3" y2="373.3" stroke="#333" stroke-width="1.3"/>
<line x1="290.7" y1="278.2" x2="290.7" y2="373.95" stroke="#1a1a1a" stroke-width="1.3"/>
<line x1="287.7" y1="373.3" x2="433.95" y2="373.3" stroke="#1a1a1a" stroke-width="1.3"/>
<line x1="287.7" y1="373.3" x2="290.7" y2="373.3" stroke="#1a1a1a" stroke-width="1.1"/>
<text x="287.2" y="375.73" text-anchor="end" font-size="6.8">0</text>
<line x1="287.7" y1="349.68" x2="290.7" y2="349.68" stroke="#1a1a1a" stroke-width="1.1"/>
<text x="287.2" y="352.11" text-anchor="end" font-size="6.8">1</text>
<line x1="287.7" y1="326.05" x2="290.7" y2="326.05" stroke="#1a1a1a" stroke-width="1.1"/>
<text x="287.2" y="328.48" text-anchor="end" font-size="6.8">2</text>
<line x1="287.7" y1="302.43" x2="290.7" y2="302.43" stroke="#1a1a1a" stroke-width="1.1"/>
<text x="287.2" y="304.86" text-anchor="end" font-size="6.8">3</text>
<line x1="287.7" y1="278.8" x2="290.7" y2="278.8" stroke="#1a1a1a" stroke-width="1.1"/>
<text x="287.2" y="281.23" text-anchor="end" font-size="6.8">4</text>
<line x1="308.3" y1="373.3" x2="308.3" y2="376.3" stroke="#1a1a1a" stroke-width="1.1"/>
<text x="308.3" y="383.5" text-anchor="middle" font-size="6.8">0</text>
<line x1="343.97" y1="373.3" x2="343.97" y2="376.3" stroke="#1a1a1a" stroke-width="1.1"/>
<text x="343.97" y="383.5" text-anchor="middle" font-size="6.8">10</text>
<line x1="379.63" y1="373.3" x2="379.63" y2="376.3" stroke="#1a1a1a" stroke-width="1.1"/>
<text x="379.63" y="383.5" text-anchor="middle" font-size="6.8">20</text>
<line x1="415.3" y1="373.3" x2="415.3" y2="376.3" stroke="#1a1a1a" stroke-width="1.1"/>
<text x="415.3" y="383.5" text-anchor="middle" font-size="6.8">30</text>
<text x="362" y="394.4" text-anchor="middle" font-size="8">[ATL146e] (ng/kg/min)</text>
<text transform="translate(278.5 326.05) rotate(-90)" x="0" y="0" text-anchor="middle" font-size="8"># CD4 cells / lung (X 10<tspan font-size="5.12" dy="-4.2">5</tspan><tspan dy="4.2">)</tspan></text>
<text x="266.8" y="276.7" font-size="11.2" stroke="#000" stroke-width="0.5">H</text>
<polyline points="308,302.1 312.1,299.6 343.6,349.8 415.2,356.5" fill="none" stroke="#111" stroke-width="1.15"/>
<line x1="308" y1="296.5" x2="308" y2="307.1" stroke="#111" stroke-width="1.3"/>
<line x1="305.8" y1="296.5" x2="310.2" y2="296.5" stroke="#111" stroke-width="1.4"/>
<line x1="305.8" y1="307.1" x2="310.2" y2="307.1" stroke="#111" stroke-width="1.4"/>
<polygon points="308,300.4 309.3,302.1 308,303.8 306.7,302.1" fill="none" stroke="#111" stroke-width="1.1"/>
<line x1="312.1" y1="290.5" x2="312.1" y2="308.3" stroke="#111" stroke-width="1.3"/>
<line x1="309.9" y1="290.5" x2="314.3" y2="290.5" stroke="#111" stroke-width="1.4"/>
<line x1="309.9" y1="308.3" x2="314.3" y2="308.3" stroke="#111" stroke-width="1.4"/>
<circle cx="312.1" cy="299.6" r="2" fill="#111"/>
<line x1="343.6" y1="345.2" x2="343.6" y2="354.6" stroke="#111" stroke-width="1.3"/>
<line x1="341.4" y1="345.2" x2="345.8" y2="345.2" stroke="#111" stroke-width="1.4"/>
<line x1="341.4" y1="354.6" x2="345.8" y2="354.6" stroke="#111" stroke-width="1.4"/>
<circle cx="343.6" cy="349.8" r="2" fill="#111"/>
<circle cx="415.2" cy="356.5" r="2" fill="#111"/>
<polygon points="343.6,337.95 344.23,339.23 345.64,339.44 344.62,340.43 344.86,341.84 343.6,341.18 342.34,341.84 342.58,340.43 341.56,339.44 342.97,339.23" fill="#111"/>
<polygon points="415.2,359.15 415.83,360.43 417.24,360.64 416.22,361.63 416.46,363.04 415.2,362.38 413.94,363.04 414.18,361.63 413.16,360.64 414.57,360.43" fill="#111"/>
</svg>
</body></html>
